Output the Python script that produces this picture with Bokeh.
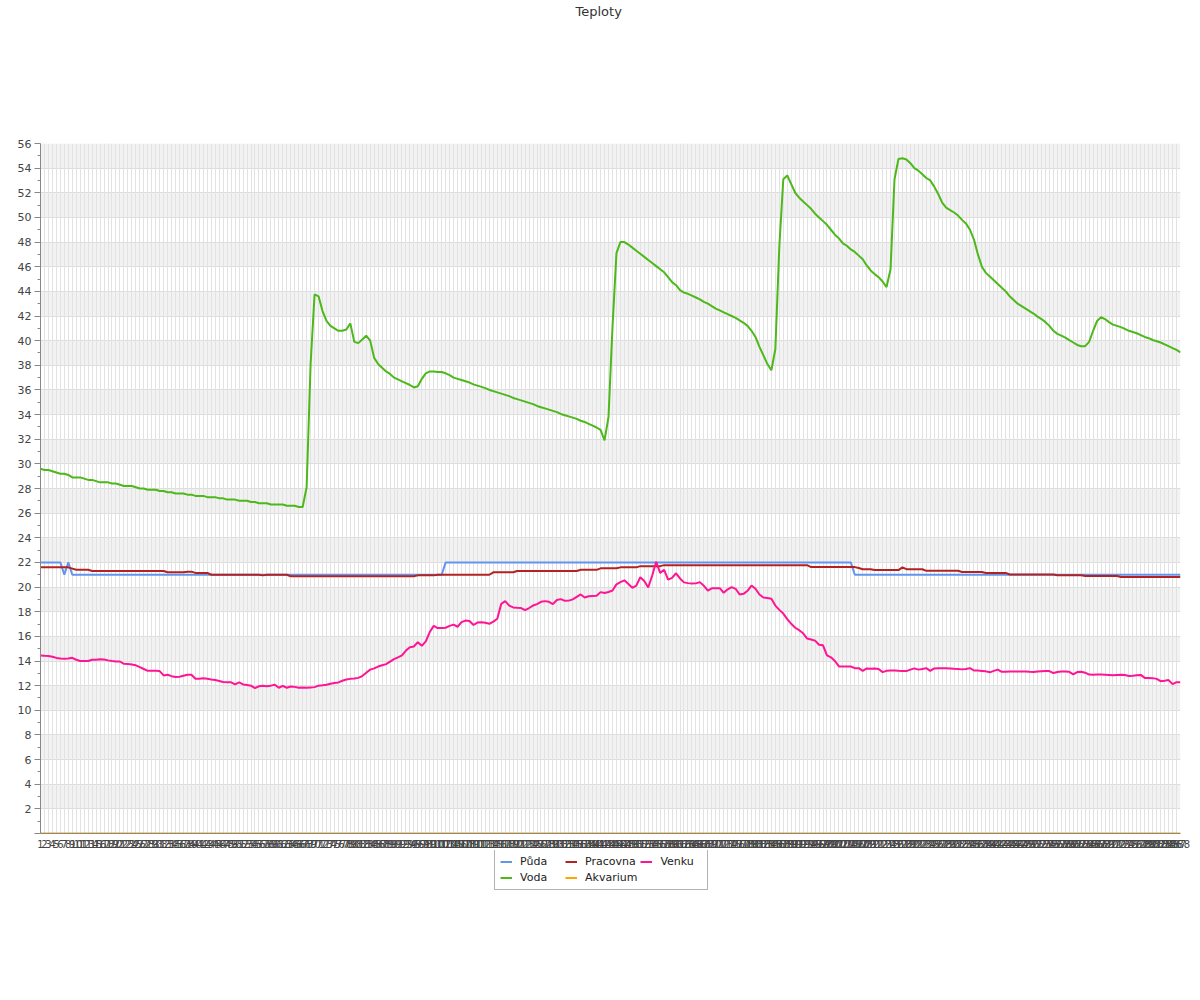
from bokeh.plotting import figure
from bokeh.layouts import column
from bokeh.models import FixedTicker, Range1d, Legend, LegendItem, ColumnDataSource, Title
from bokeh.embed import file_html
from bokeh.resources import INLINE

# ---- data -------------------------------------------------------------
slots = list(range(1, 289))          # 5-minute slots of the day (tick labels 1..288)
y_ticks = list(range(0, 57, 2))
y_minor = list(range(1, 56, 2))
chart_title = "Teploty"

puda = [
    22, 22, 22, 22, 22, 22, 21, 22, 21, 21, 21, 21, 21, 21, 21, 21, 21, 21, 21, 21, 21, 21, 21, 21,
    21, 21, 21, 21, 21, 21, 21, 21, 21, 21, 21, 21, 21, 21, 21, 21, 21, 21, 21, 21, 21, 21, 21, 21,
    21, 21, 21, 21, 21, 21, 21, 21, 21, 21, 21, 21, 21, 21, 21, 21, 21, 21, 21, 21, 21, 21, 21, 21,
    21, 21, 21, 21, 21, 21, 21, 21, 21, 21, 21, 21, 21, 21, 21, 21, 21, 21, 21, 21, 21, 21, 21, 21,
    21, 21, 21, 21, 21, 21, 22, 22, 22, 22, 22, 22, 22, 22, 22, 22, 22, 22, 22, 22, 22, 22, 22, 22,
    22, 22, 22, 22, 22, 22, 22, 22, 22, 22, 22, 22, 22, 22, 22, 22, 22, 22, 22, 22, 22, 22, 22, 22,
    22, 22, 22, 22, 22, 22, 22, 22, 22, 22, 22, 22, 22, 22, 22, 22, 22, 22, 22, 22, 22, 22, 22, 22,
    22, 22, 22, 22, 22, 22, 22, 22, 22, 22, 22, 22, 22, 22, 22, 22, 22, 22, 22, 22, 22, 22, 22, 22,
    22, 22, 22, 22, 22, 22, 22, 22, 22, 22, 22, 22, 22, 21, 21, 21, 21, 21, 21, 21, 21, 21, 21, 21,
    21, 21, 21, 21, 21, 21, 21, 21, 21, 21, 21, 21, 21, 21, 21, 21, 21, 21, 21, 21, 21, 21, 21, 21,
    21, 21, 21, 21, 21, 21, 21, 21, 21, 21, 21, 21, 21, 21, 21, 21, 21, 21, 21, 21, 21, 21, 21, 21,
    21, 21, 21, 21, 21, 21, 21, 21, 21, 21, 21, 21, 21, 21, 21, 21, 21, 21, 21, 21, 21, 21, 21, 21,
]

voda = [
    29.6, 29.5, 29.5, 29.4, 29.3, 29.2, 29.2, 29.1, 28.9, 28.9,
    28.9, 28.8, 28.7, 28.7, 28.6, 28.5, 28.5, 28.5, 28.4, 28.4,
    28.3, 28.2, 28.2, 28.2, 28.1, 28.0, 28.0, 27.9, 27.9, 27.9,
    27.8, 27.8, 27.7, 27.7, 27.6, 27.6, 27.6, 27.5, 27.5, 27.4,
    27.4, 27.4, 27.3, 27.3, 27.3, 27.2, 27.2, 27.1, 27.1, 27.1,
    27.0, 27.0, 27.0, 26.9, 26.9, 26.8, 26.8, 26.8, 26.7, 26.7,
    26.7, 26.7, 26.6, 26.6, 26.6, 26.5, 26.5, 28.1, 38.1, 43.75,
    43.6, 42.4, 41.6, 41.2, 41.0, 40.8, 40.8, 40.9, 41.4, 39.9,
    39.8, 40.1, 40.4, 40.0, 38.6, 38.1, 37.8, 37.5, 37.3, 37.0,
    36.85, 36.7, 36.55, 36.4, 36.2, 36.3, 36.9, 37.35, 37.5, 37.5,
    37.45, 37.45, 37.35, 37.2, 37.0, 36.9, 36.8, 36.7, 36.6, 36.45,
    36.35, 36.25, 36.15, 36.0, 35.9, 35.8, 35.7, 35.6, 35.5, 35.35,
    35.25, 35.15, 35.05, 34.95, 34.85, 34.7, 34.6, 34.5, 34.4, 34.3,
    34.2, 34.05, 33.95, 33.85, 33.75, 33.65, 33.5, 33.4, 33.25, 33.1,
    32.95, 32.75, 31.9, 33.8, 41.1, 47.1, 48.0, 48.0, 47.8, 47.55,
    47.3, 47.05, 46.8, 46.55, 46.3, 46.05, 45.8, 45.55, 45.15, 44.75,
    44.5, 44.1, 43.9, 43.8, 43.65, 43.5, 43.35, 43.15, 43.0, 42.8,
    42.6, 42.45, 42.3, 42.15, 42.0, 41.85, 41.65, 41.45, 41.2, 40.8,
    40.3, 39.5, 38.8, 38.1, 37.6, 39.3, 47.6, 53.1, 53.4, 52.7,
    52.0, 51.6, 51.3, 51.0, 50.7, 50.3, 50.0, 49.7, 49.4, 49.0,
    48.6, 48.3, 47.9, 47.7, 47.4, 47.2, 46.9, 46.6, 46.1, 45.7,
    45.4, 45.15, 44.8, 44.35, 45.8, 53.1, 54.75, 54.8, 54.7, 54.4,
    54.0, 53.8, 53.5, 53.2, 53.0, 52.5, 51.9, 51.2, 50.8, 50.6,
    50.4, 50.15, 49.8, 49.5, 49.0, 48.2, 47.0, 46.0, 45.5, 45.2,
    44.9, 44.6, 44.3, 44.0, 43.6, 43.3, 43.0, 42.8, 42.6, 42.4,
    42.2, 41.95, 41.75, 41.5, 41.2, 40.8, 40.55, 40.4, 40.25, 40.05,
    39.85, 39.65, 39.55, 39.55, 39.9, 40.8, 41.6, 41.9, 41.75, 41.5,
    41.3, 41.2, 41.1, 40.95, 40.8, 40.7, 40.6, 40.45, 40.3, 40.2,
    40.05, 39.95, 39.85, 39.7, 39.55, 39.4, 39.25, 39.05,
]

pracovna = [
    21.6, 21.6, 21.6, 21.6, 21.6, 21.6, 21.6, 21.6, 21.5, 21.4, 21.4, 21.4,
    21.4, 21.3, 21.3, 21.3, 21.3, 21.3, 21.3, 21.3, 21.3, 21.3, 21.3, 21.3,
    21.3, 21.3, 21.3, 21.3, 21.3, 21.3, 21.3, 21.3, 21.2, 21.2, 21.2, 21.2,
    21.2, 21.25, 21.25, 21.15, 21.15, 21.15, 21.15, 21.0, 21.0, 21.0, 21.0, 21.0,
    21.0, 21.0, 21.0, 21.0, 21.0, 21.0, 21.0, 21.0, 20.95, 21.0, 21.0, 21.0,
    21.0, 21.0, 21.0, 20.88, 20.88, 20.88, 20.88, 20.88, 20.88, 20.88, 20.88, 20.88,
    20.88, 20.88, 20.88, 20.88, 20.88, 20.88, 20.88, 20.88, 20.88, 20.88, 20.88, 20.88,
    20.88, 20.88, 20.88, 20.88, 20.88, 20.88, 20.88, 20.88, 20.88, 20.88, 20.88, 20.95,
    20.95, 20.95, 20.95, 20.95, 21.0, 21.0, 21.0, 21.0, 21.0, 21.0, 21.0, 21.0,
    21.0, 21.0, 21.0, 21.0, 21.0, 21.0, 21.2, 21.2, 21.2, 21.2, 21.2, 21.2,
    21.3, 21.3, 21.3, 21.3, 21.3, 21.3, 21.3, 21.3, 21.3, 21.3, 21.3, 21.3,
    21.3, 21.3, 21.3, 21.3, 21.4, 21.4, 21.4, 21.4, 21.4, 21.52, 21.52, 21.52,
    21.52, 21.52, 21.6, 21.6, 21.6, 21.6, 21.6, 21.7, 21.7, 21.7, 21.7, 21.7,
    21.7, 21.78, 21.78, 21.78, 21.78, 21.78, 21.78, 21.78, 21.78, 21.78, 21.78, 21.78,
    21.78, 21.78, 21.78, 21.78, 21.78, 21.78, 21.78, 21.78, 21.78, 21.78, 21.78, 21.78,
    21.78, 21.78, 21.78, 21.78, 21.78, 21.78, 21.78, 21.78, 21.78, 21.78, 21.78, 21.78,
    21.78, 21.78, 21.62, 21.62, 21.62, 21.62, 21.62, 21.62, 21.62, 21.62, 21.62, 21.62,
    21.62, 21.62, 21.55, 21.45, 21.45, 21.45, 21.38, 21.38, 21.38, 21.38, 21.38, 21.38,
    21.38, 21.6, 21.45, 21.45, 21.45, 21.45, 21.45, 21.32, 21.32, 21.32, 21.32, 21.32,
    21.32, 21.32, 21.32, 21.32, 21.22, 21.22, 21.22, 21.22, 21.22, 21.22, 21.15, 21.15,
    21.15, 21.15, 21.15, 21.15, 21.02, 21.02, 21.02, 21.02, 21.02, 21.02, 21.02, 21.02,
    21.02, 21.02, 21.02, 21.02, 20.96, 20.96, 20.96, 20.96, 20.96, 20.96, 20.96, 20.9,
    20.9, 20.9, 20.9, 20.9, 20.9, 20.9, 20.9, 20.9, 20.82, 20.82, 20.82, 20.82,
    20.82, 20.82, 20.82, 20.82, 20.82, 20.82, 20.82, 20.82, 20.82, 20.82, 20.82, 20.82,
]

akvarium = [
    0, 0, 0, 0, 0, 0, 0, 0, 0, 0, 0, 0, 0, 0, 0, 0, 0, 0, 0, 0, 0, 0, 0, 0,
    0, 0, 0, 0, 0, 0, 0, 0, 0, 0, 0, 0, 0, 0, 0, 0, 0, 0, 0, 0, 0, 0, 0, 0,
    0, 0, 0, 0, 0, 0, 0, 0, 0, 0, 0, 0, 0, 0, 0, 0, 0, 0, 0, 0, 0, 0, 0, 0,
    0, 0, 0, 0, 0, 0, 0, 0, 0, 0, 0, 0, 0, 0, 0, 0, 0, 0, 0, 0, 0, 0, 0, 0,
    0, 0, 0, 0, 0, 0, 0, 0, 0, 0, 0, 0, 0, 0, 0, 0, 0, 0, 0, 0, 0, 0, 0, 0,
    0, 0, 0, 0, 0, 0, 0, 0, 0, 0, 0, 0, 0, 0, 0, 0, 0, 0, 0, 0, 0, 0, 0, 0,
    0, 0, 0, 0, 0, 0, 0, 0, 0, 0, 0, 0, 0, 0, 0, 0, 0, 0, 0, 0, 0, 0, 0, 0,
    0, 0, 0, 0, 0, 0, 0, 0, 0, 0, 0, 0, 0, 0, 0, 0, 0, 0, 0, 0, 0, 0, 0, 0,
    0, 0, 0, 0, 0, 0, 0, 0, 0, 0, 0, 0, 0, 0, 0, 0, 0, 0, 0, 0, 0, 0, 0, 0,
    0, 0, 0, 0, 0, 0, 0, 0, 0, 0, 0, 0, 0, 0, 0, 0, 0, 0, 0, 0, 0, 0, 0, 0,
    0, 0, 0, 0, 0, 0, 0, 0, 0, 0, 0, 0, 0, 0, 0, 0, 0, 0, 0, 0, 0, 0, 0, 0,
    0, 0, 0, 0, 0, 0, 0, 0, 0, 0, 0, 0, 0, 0, 0, 0, 0, 0, 0, 0, 0, 0, 0, 0,
]

venku = [
    14.45, 14.42, 14.4, 14.35, 14.25, 14.2, 14.18, 14.2, 14.26, 14.1,
    14.0, 14.0, 14.0, 14.1, 14.1, 14.15, 14.12, 14.05, 14.0, 13.96,
    13.96, 13.77, 13.75, 13.72, 13.65, 13.5, 13.35, 13.2, 13.2, 13.2,
    13.18, 12.83, 12.88, 12.77, 12.7, 12.72, 12.8, 12.88, 12.88, 12.56,
    12.56, 12.6, 12.56, 12.5, 12.45, 12.38, 12.3, 12.28, 12.27, 12.1,
    12.26, 12.1, 12.05, 12.0, 11.8, 11.95, 12.0, 11.96, 12.0, 12.07,
    11.83, 11.98, 11.83, 11.93, 11.9, 11.83, 11.85, 11.82, 11.85, 11.88,
    12.0, 12.03, 12.07, 12.15, 12.22, 12.26, 12.4, 12.5, 12.55, 12.58,
    12.63, 12.78, 13.05, 13.3, 13.4, 13.55, 13.65, 13.75, 13.95, 14.15,
    14.3, 14.45, 14.85, 15.12, 15.18, 15.53, 15.23, 15.6, 16.35, 16.85,
    16.67, 16.67, 16.7, 16.85, 16.95, 16.78, 17.15, 17.28, 17.25, 16.92,
    17.12, 17.15, 17.1, 17.02, 17.2, 17.43, 18.64, 18.86, 18.5, 18.35,
    18.32, 18.3, 18.12, 18.3, 18.5, 18.62, 18.8, 18.86, 18.8, 18.62,
    18.95, 19.02, 18.88, 18.9, 19.0, 19.2, 19.4, 19.15, 19.25, 19.28,
    19.3, 19.59, 19.52, 19.6, 19.72, 20.22, 20.4, 20.55, 20.25, 19.94,
    20.12, 20.8, 20.5, 19.97, 20.94, 22.05, 21.15, 21.4, 20.6, 20.75,
    21.12, 20.7, 20.38, 20.32, 20.28, 20.3, 20.4, 20.1, 19.72, 19.9,
    19.9, 19.91, 19.54, 19.82, 20.0, 19.86, 19.4, 19.45, 19.7, 20.12,
    19.86, 19.4, 19.15, 19.12, 19.05, 18.5, 18.15, 17.85, 17.4, 17.02,
    16.7, 16.5, 16.25, 15.82, 15.75, 15.65, 15.32, 15.27, 14.45, 14.3,
    14.0, 13.56, 13.56, 13.56, 13.55, 13.42, 13.42, 13.2, 13.4, 13.38,
    13.4, 13.35, 13.1, 13.2, 13.23, 13.23, 13.2, 13.18, 13.18, 13.3,
    13.4, 13.3, 13.35, 13.42, 13.2, 13.4, 13.42, 13.42, 13.42, 13.4,
    13.37, 13.35, 13.32, 13.35, 13.42, 13.23, 13.22, 13.19, 13.16, 13.08,
    13.2, 13.3, 13.12, 13.13, 13.15, 13.15, 13.15, 13.15, 13.15, 13.12,
    13.1, 13.14, 13.17, 13.18, 13.18, 13.02, 13.1, 13.15, 13.15, 13.12,
    12.92, 13.1, 13.13, 13.05, 12.9, 12.89, 12.9, 12.9, 12.89, 12.87,
    12.84, 12.86, 12.88, 12.86, 12.78, 12.8, 12.85, 12.87, 12.63, 12.62,
    12.61, 12.55, 12.36, 12.4, 12.45, 12.12, 12.28, 12.28,
]

series_names = ["Půda", "Voda", "Pracovna", "Akvarium", "Venku"]
series_colors = ["#6495ed", "#4cb81a", "#b22222", "#ffa500", "#ff1493"]

# ---- main figure ------------------------------------------------------
FONT = "DejaVu Sans"
FIG_W = 1195

p = figure(
    frame_width=1140, frame_height=690,
    min_border_left=40, min_border_right=15, min_border_top=143, min_border_bottom=17,
    x_range=Range1d(slots[0], slots[-1]), y_range=Range1d(y_ticks[0], y_ticks[-1]),
    output_backend="svg", toolbar_location=None, title=chart_title,
)
p.outline_line_color = None
p.background_fill_color = "white"

p.title.align = "left"
p.title.offset = 535
p.title.text_font = FONT
p.title.text_font_size = "13px"
p.title.text_font_style = "normal"
p.title.text_color = "#333333"
p.title.standoff = 2
# invisible spacer between the title and the plotting area
p.add_layout(Title(text=" ", text_font_size="1px", standoff=121), "above")

# axes
x_ticker = FixedTicker(ticks=slots)
p.xaxis.ticker = x_ticker
p.xaxis.major_label_text_font = FONT
p.xaxis.major_label_text_font_size = "10px"
p.xaxis.major_label_text_color = "#444444"
p.xaxis.major_tick_out = 0
p.xaxis.major_tick_in = 0
p.xaxis.minor_tick_out = 0
p.xaxis.major_label_standoff = 6
p.xaxis.axis_line_color = "#888888"

y_ticker = FixedTicker(ticks=y_ticks, minor_ticks=y_minor)
p.yaxis.ticker = y_ticker
p.yaxis.major_label_overrides = {0: ""}
p.yaxis.major_label_text_font = FONT
p.yaxis.major_label_text_font_size = "11px"
p.yaxis.major_label_text_color = "#444444"
p.yaxis.major_tick_out = 6
p.yaxis.major_tick_in = 0
p.yaxis.minor_tick_out = 3
p.yaxis.minor_tick_in = 0
p.yaxis.major_tick_line_color = "#888888"
p.yaxis.minor_tick_line_color = "#888888"
p.yaxis.axis_line_color = "#888888"
p.yaxis.major_label_standoff = 3

# grids
p.xgrid.ticker = x_ticker
p.xgrid.grid_line_color = "#e2e2e2"
p.ygrid.ticker = y_ticker
p.ygrid.grid_line_color = "#dddddd"
p.ygrid.band_fill_color = "#f2f2f2"
p.ygrid.band_fill_alpha = 1.0
ygrid_model = p.ygrid[0]
xgrid_model = p.xgrid[0]
p.center = [ygrid_model, xgrid_model]

source = ColumnDataSource(dict(slot=slots, puda=puda, voda=voda, pracovna=pracovna,
                               akvarium=akvarium, venku=venku))
cols = ["puda", "voda", "pracovna", "akvarium", "venku"]
for color, col in zip(series_colors, cols):
    p.line("slot", col, source=source, line_color=color, line_width=2)

# ---- legend strip below the chart ------------------------------------
# same series, but the strip's ranges keep them out of view: only the legend shows
lg = figure(
    width=FIG_W, height=60, x_range=Range1d(-2, -1), y_range=Range1d(-2, -1),
    x_axis_type=None, y_axis_type=None, output_backend="svg", toolbar_location=None,
    min_border=0,
)
lg.outline_line_color = None
lg.grid.visible = False
items = []
for name, color, col in zip(series_names, series_colors, cols):
    r = lg.line("slot", col, source=source, line_color=color, line_width=2)
    items.append(LegendItem(label=name, renderers=[r]))

legend = Legend(items=items, orientation="vertical", nrows=2, location=(454, 20))
legend.label_text_font = FONT
legend.label_text_font_size = "11px"
legend.label_text_color = "#222222"
legend.glyph_width = 12
legend.glyph_height = 13
legend.label_height = 13
legend.label_width = 42
legend.label_standoff = 8
legend.spacing = 3
legend.padding = 5
legend.margin = 0
legend.border_line_color = "#666666"
legend.border_line_width = 1
legend.background_fill_color = "white"
legend.background_fill_alpha = 1.0
lg.add_layout(legend)

layout = column(p, lg, spacing=0)
open("out.html", "w").write(file_html(layout, INLINE))
